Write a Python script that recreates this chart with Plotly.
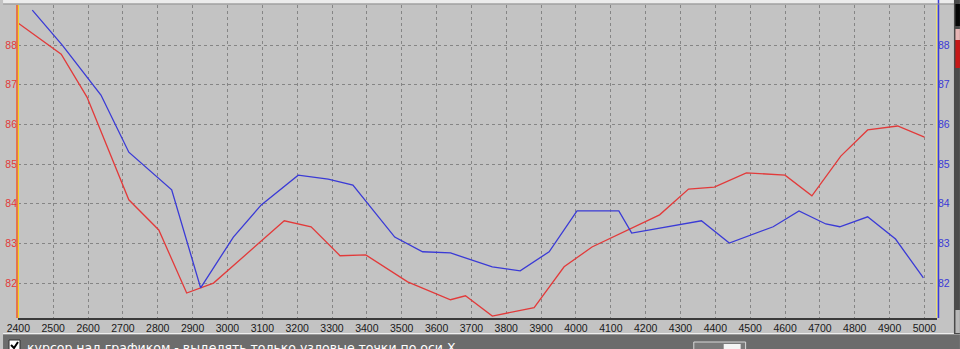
import plotly.graph_objects as go

# ---- data ----
red_x = [2400, 2523, 2597, 2717, 2803, 2883, 2960, 3163, 3240, 3323, 3397, 3517, 3640, 3683,
         3760, 3846, 3880, 3966, 4046, 4240, 4323, 4397, 4489, 4600, 4677, 4760, 4837, 4923, 5000]
red_y = [88.55, 87.77, 86.69, 84.10, 83.34, 81.75, 82.00, 83.57, 83.42, 82.69, 82.71, 82.03, 81.58, 81.68,
         81.17, 81.33, 81.38, 82.41, 82.91, 83.72, 84.37, 84.42, 84.78, 84.72, 84.20, 85.20, 85.86, 85.96, 85.68]

blue_x = [2440, 2526, 2637, 2717, 2840, 2923, 3017, 3097, 3203, 3289, 3360, 3480, 3560, 3640,
          3760, 3840, 3923, 4003, 4123, 4160, 4360, 4440, 4566, 4640, 4717, 4757, 4837, 4917, 4997]
blue_y = [88.88, 88.00, 86.74, 85.30, 84.35, 81.88, 83.16, 83.97, 84.72, 84.62, 84.47, 83.16, 82.79, 82.76,
          82.41, 82.31, 82.79, 83.82, 83.82, 83.26, 83.57, 83.01, 83.42, 83.82, 83.49, 83.42, 83.67, 83.11, 82.13]

x_ticks = list(range(2400, 5001, 100))
x_labels = [str(v) for v in x_ticks]
y_ticks = [82, 83, 84, 85, 86, 87, 88]
y_labels = [str(v) for v in y_ticks]
status_text = "курсор над графиком - выделять только узловые точки по оси X"

# ---- layout geometry ----
W, H = 960, 349
ML, MR, MT, MB = 15, 23, 5, 31
PW, PH = W - ML - MR, H - MT - MB


def px(xp):
    return (xp - ML) / PW


def py(yp):
    return (H - MB - yp) / PH


BG = "#c3c3c3"
GRID = "#858585"

fig = go.Figure()
fig.add_trace(go.Scatter(x=red_x, y=red_y, mode="lines",
                         line=dict(color="#e23a3a", width=1.3), yaxis="y", showlegend=False))
fig.add_trace(go.Scatter(x=blue_x, y=blue_y, mode="lines",
                         line=dict(color="#3a3ad6", width=1.3), yaxis="y2", showlegend=False))

yr = [81.12, 89.01]
tickfont = dict(family="Liberation Sans", size=10.5)

shapes = []
# left axis lines (red + yellow)
shapes.append(dict(type="line", xref="paper", yref="paper", x0=px(14), x1=px(14), y0=0, y1=1,
                   line=dict(color="#f05a28", width=1.5)))
shapes.append(dict(type="line", xref="paper", yref="paper", x0=px(15.5), x1=px(15.5), y0=0, y1=1,
                   line=dict(color="#f7d020", width=1)))
# right axis lines (yellow + blue)
shapes.append(dict(type="line", xref="paper", yref="paper", x0=px(936.5), x1=px(936.5), y0=0, y1=1,
                   line=dict(color="#e8e070", width=1)))
shapes.append(dict(type="line", xref="paper", yref="paper", x0=px(938.5), x1=px(938.5), y0=0, y1=1.03,
                   line=dict(color="#3a3ad6", width=1.5)))
# top light strip
shapes.append(dict(type="rect", xref="paper", yref="paper", x0=px(0), x1=px(955), y0=py(0), y1=py(3.5),
                   fillcolor="#ececec", line=dict(width=0), layer="below"))
shapes.append(dict(type="line", xref="paper", yref="paper", x0=px(0), x1=px(955), y0=py(4), y1=py(4),
                   line=dict(color="#909090", width=1)))
# bottom status bar
shapes.append(dict(type="line", xref="paper", yref="paper", x0=px(0), x1=px(960), y0=py(333.5), y1=py(333.5),
                   line=dict(color="#eeeeee", width=1)))
shapes.append(dict(type="rect", xref="paper", yref="paper", x0=px(0), x1=px(960), y0=py(334.5), y1=py(349),
                   fillcolor="#6c6c6c", line=dict(width=0)))
# checkbox
shapes.append(dict(type="rect", xref="paper", yref="paper", x0=px(6), x1=px(17), y0=py(340), y1=py(351),
                   fillcolor="#ffffff", line=dict(color="#303030", width=1)))
shapes.append(dict(type="path", xref="paper", yref="paper",
                   path=f"M {px(8)},{py(345)} L {px(11)},{py(348)} L {px(15)},{py(342)}",
                   line=dict(color="#000000", width=2)))
# small widget box
shapes.append(dict(type="rect", xref="paper", yref="paper", x0=px(693), x1=px(745), y0=py(342), y1=py(352),
                   fillcolor="#7a7a7a", line=dict(color="#d8d8d8", width=1)))
shapes.append(dict(type="rect", xref="paper", yref="paper", x0=px(723), x1=px(740), y0=py(344), y1=py(352),
                   fillcolor="#f4f4f4", line=dict(width=0)))
# right dark panel
shapes.append(dict(type="rect", xref="paper", yref="paper", x0=px(954), x1=px(960), y0=py(0), y1=py(334),
                   fillcolor="#4a4a4a", line=dict(width=0)))
shapes.append(dict(type="rect", xref="paper", yref="paper", x0=px(955.5), x1=px(960), y0=py(4), y1=py(26),
                   fillcolor="#050505", line=dict(width=0)))
shapes.append(dict(type="rect", xref="paper", yref="paper", x0=px(955.5), x1=px(960), y0=py(29), y1=py(40),
                   fillcolor="#e8b4b4", line=dict(width=0)))
shapes.append(dict(type="rect", xref="paper", yref="paper", x0=px(955.5), x1=px(960), y0=py(40), y1=py(68),
                   fillcolor="#c81818", line=dict(width=0)))
shapes.append(dict(type="rect", xref="paper", yref="paper", x0=px(955.5), x1=px(960), y0=py(310), y1=py(333),
                   fillcolor="#b8b8b8", line=dict(width=0)))

fig.update_layout(
    width=W, height=H,
    margin=dict(l=ML, r=MR, t=MT, b=MB, pad=0),
    paper_bgcolor=BG, plot_bgcolor=BG,
    showlegend=False,
    xaxis=dict(range=[2399, 5036], tickmode="array", tickvals=x_ticks, ticktext=x_labels,
               showgrid=True, gridcolor=GRID, griddash="3px,3px", gridwidth=1,
               showline=True, linecolor="#3a3a3a", linewidth=1.5, mirror=False,
               zeroline=False, ticks="", tickfont=dict(tickfont, color="#1a1a1a"), fixedrange=True),
    yaxis=dict(range=yr, tickmode="array", tickvals=y_ticks, ticktext=y_labels,
               showgrid=True, gridcolor=GRID, griddash="3px,3px", gridwidth=1,
               showline=False, zeroline=False, ticks="", ticklen=0,
               tickfont=dict(tickfont, color="#e23a3a")),
    yaxis2=dict(range=yr, overlaying="y", side="right", tickmode="array", tickvals=y_ticks,
                ticktext=y_labels, showgrid=False, showline=False, zeroline=False, ticks="",
                tickfont=dict(tickfont, color="#3a3ad6")),
    shapes=shapes,
    annotations=[dict(text=status_text, xref="paper", yref="paper", x=px(22), y=py(338),
                      xanchor="left", yanchor="top", showarrow=False,
                      font=dict(family="DejaVu Sans", size=12.5, color="#ffffff"))],
)

fig.write_html("out.html")
